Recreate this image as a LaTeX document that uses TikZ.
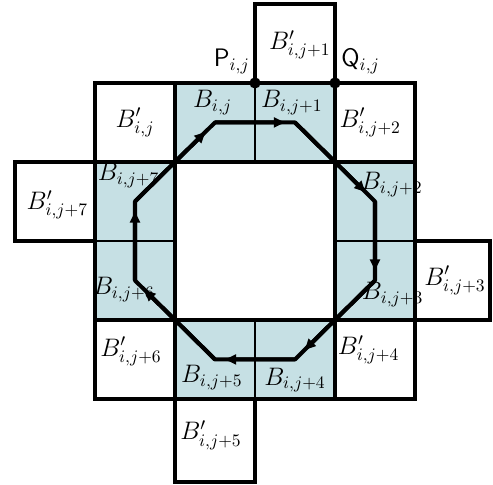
\documentclass[tikz,border=0pt]{standalone}
\usepackage{amsmath,amssymb}
\usepackage{tikz}
\usetikzlibrary{arrows.meta,calc}
\usepackage{xcolor}
\definecolor{cellteal}{RGB}{198,224,228}

\tikzset{
  heavy/.style={line width=2.4pt,line join=miter},
  light/.style={line width=1.4pt},
  octline/.style={line width=2.3pt,line join=round},
  lbl/.style={font=\fontsize{14}{16}\selectfont,inner sep=0pt}
}

\begin{document}
\begin{tikzpicture}[x=1.6cm,y=1.58cm,>={Latex[length=7.5pt,width=6.5pt]}]
  \useasboundingbox (-1.1875,-1.089) rectangle (4.975,5.05);
  % shaded ring of cells
  \foreach \x/\y in {1/3,2/3,3/2,3/1,2/0,1/0,0/1,0/2}
    \fill[cellteal] (\x,\y) rectangle ++(1,1);
  \draw[light] (2,3)--(2,4) (2,0)--(2,1) (0,2)--(1,2) (3,2)--(4,2);
  \draw[heavy] (1,3) rectangle (3,4) (1,0) rectangle (3,1)
               (0,1) rectangle (1,3) (3,1) rectangle (4,3)
               (1,1) rectangle (3,3);
  % white boxes round the ring
  \draw[heavy] (0,3) rectangle (1,4) (2,4) rectangle (3,5) (3,3) rectangle (4,4)
               (4,1) rectangle (4.94,2) (3,0) rectangle (4,1) (1,-1.05) rectangle (2,0)
               (0,0) rectangle (1,1) (-1,2) rectangle (0,3);
  % closed path through the cells
  \coordinate (v0) at (1.5,3.5);
  \coordinate (v1) at (2.5,3.5);
  \coordinate (v2) at (3.5,2.5);
  \coordinate (v3) at (3.5,1.5);
  \coordinate (v4) at (2.5,0.5);
  \coordinate (v5) at (1.5,0.5);
  \coordinate (v6) at (0.5,1.5);
  \coordinate (v7) at (0.5,2.5);
  \draw[octline] (v0)--(v1)--(v2)--(v3)--(v4)--(v5)--(v6)--(v7)--cycle;
  \foreach \a/\b in {v0/v1,v1/v2,v2/v3,v3/v4,v4/v5,v5/v6,v6/v7,v7/v0}
    \draw[octline,->] (\a) -- ($(\a)!0.9!(\b)$);
  % the two points
  \coordinate (P) at (2,4);
  \coordinate (Q) at (3,4);
  \foreach \p in {P,Q}
    \fill (\p) circle (3.2pt);
  \node[lbl] (Plbl) at (1.71,4.27) {$\mathsf{P}_{i,j}$};
  \node[lbl] (Qlbl) at (3.32,4.27) {$\mathsf{Q}_{i,j}$};
  % cell labels
  \foreach \n/\pos/\txt in {b0/{1.47,3.75}/{j},b1/{2.46,3.75}/{j+1},b2/{3.71,2.71}/{j+2},
      b3/{3.72,1.32}/{j+3},b4/{2.5,0.24}/{j+4},b5/{1.46,0.27}/{j+5},
      b6/{0.36,1.38}/{j+6},b7/{0.42,2.83}/{j+7}}
    \node[lbl] (\n) at (\pos) {$B_{i,\txt}$};
  \foreach \n/\pos/\txt in {c0/{0.5,3.5}/{j},c1/{2.56,4.48}/{j+1},c2/{3.44,3.5}/{j+2},
      c3/{4.5,1.5}/{j+3},c4/{3.42,0.62}/{j+4},c5/{1.45,-0.46}/{j+5},
      c6/{0.45,0.6}/{j+6},c7/{-0.47,2.46}/{j+7}}
    \node[lbl] (\n) at (\pos) {$B'_{i,\txt}$};
\end{tikzpicture}
\end{document}
